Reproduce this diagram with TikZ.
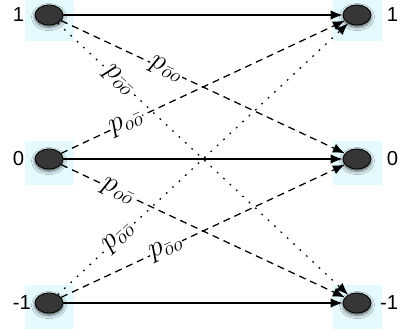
\documentclass[tikz,border=0pt]{standalone}
\usepackage{fontspec}
\setsansfont{Liberation Sans}
\usetikzlibrary{arrows.meta, positioning, shapes.geometric, shadows.blur}
\definecolor{halocyan}{HTML}{E4FAFF}
\definecolor{statefill}{HTML}{363636}

\begin{document}
\begin{tikzpicture}[
  halo/.style={rectangle, fill=halocyan, minimum width=12.25mm, minimum height=11mm, inner sep=0pt},
  state/.style={ellipse, draw=black, fill=statefill, line width=0.6pt, minimum width=7mm,
    minimum height=5mm, inner sep=0pt,
    blur shadow={shadow xshift=0pt, shadow yshift=-1.5pt, shadow blur radius=2.5pt,
      shadow opacity=70}},
  level/.style={font=\sffamily\Large},
  arrow/.style={-{Latex[length=3mm, width=2.4mm]}, line width=0.9pt},
  jump/.style={arrow, dash pattern=on 5pt off 3.5pt},
  cross/.style={arrow, dash pattern=on 1.2pt off 5pt},
  prob/.style={sloped, fill=white, inner sep=0.3pt, font=\huge}
]
\useasboundingbox (0,0) rectangle (10.15,8.225);
\clip (0,0) rectangle (10.15,8.225);

% backgrounds
\node[halo] (hl1) at (1.225, 7.75) {};
\node[halo] (hl0) at (1.225, 4.15) {};
\node[halo] (hlm) at (1.225, 0.55) {};
\node[halo] (hr1) at (8.925, 7.75) {};
\node[halo] (hr0) at (8.925, 4.15) {};
\node[halo] (hrm) at (8.925, 0.55) {};

% states
\node[state] (l1) at (1.225, 7.85) {};
\node[state] (l0) at (1.225, 4.25) {};
\node[state] (lm) at (1.225, 0.65) {};
\node[state] (r1) at (8.925, 7.85) {};
\node[state] (r0) at (8.925, 4.25) {};
\node[state] (rm) at (8.925, 0.65) {};

\node[level, anchor=west] at (0.2, 7.85) {1};
\node[level, anchor=west] at (0.2, 4.25) {0};
\node[level, anchor=west] at (0.2, 0.65) {-1};
\node[level, anchor=east] at (10.08, 7.85) {1};
\node[level, anchor=east] at (10.08, 4.25) {0};
\node[level, anchor=east] at (10.08, 0.65) {-1};

% transitions
\draw[arrow] (l1) -- (r1);
\draw[arrow] (l0) -- (r0);
\draw[arrow] (lm) -- (rm);
\draw[jump] (l1) -- node[prob, pos=0.37] {$p_{\bar{o}o}$} (r0);
\draw[jump] (l0) -- node[prob, pos=0.23] {$p_{o\bar{o}}$} (r1);
\draw[jump] (l0) -- node[prob, pos=0.2] {$p_{o\bar{o}}$} (rm);
\draw[jump] (lm) -- node[prob, pos=0.37] {$p_{\bar{o}o}$} (r0);
\draw[cross] (l1) -- node[prob, pos=0.21] {$p_{\bar{o}\bar{o}}$} (rm);
\draw[cross] (lm) -- node[prob, pos=0.21] {$p_{\bar{o}\bar{o}}$} (r1);
\end{tikzpicture}
\end{document}
